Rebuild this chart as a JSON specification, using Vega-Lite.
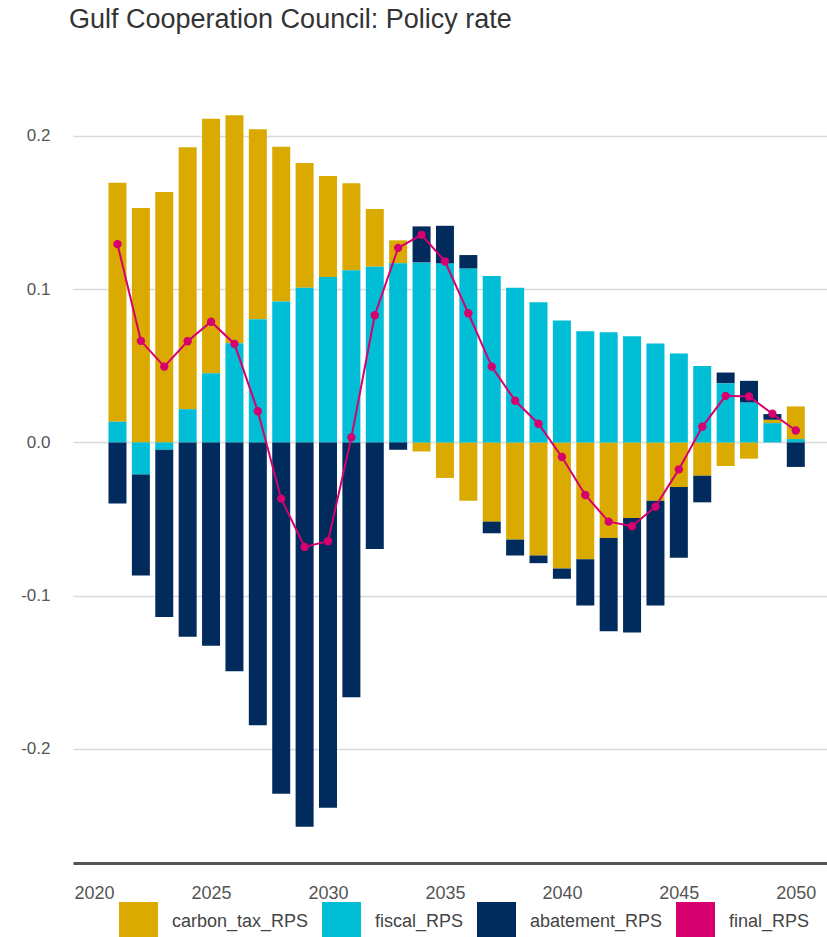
{
  "$schema": "https://vega.github.io/schema/vega-lite/v6.json",
  "width": 754,
  "height": 784,
  "autosize": {"type": "none"},
  "padding": {"left": 73, "top": 79, "right": 0, "bottom": 74},
  "background": "white",
  "config": {
    "font": "Liberation Sans",
    "view": {"stroke": null}
  },
  "title": {
    "text": "Gulf Cooperation Council: Policy rate",
    "anchor": "start",
    "frame": "group",
    "fontSize": 27,
    "fontWeight": "normal",
    "color": "#333333",
    "offset": 45,
    "dx": -4
  },
  "data": {
    "values": [
      {"year": 2021, "carbon_tax_RPS": 0.156, "fiscal_RPS": 0.0135, "abatement_RPS": -0.0399, "final_RPS": 0.1294},
      {"year": 2022, "carbon_tax_RPS": 0.153, "fiscal_RPS": -0.021, "abatement_RPS": -0.0658, "final_RPS": 0.0663},
      {"year": 2023, "carbon_tax_RPS": 0.1635, "fiscal_RPS": -0.0048, "abatement_RPS": -0.1092, "final_RPS": 0.0495},
      {"year": 2024, "carbon_tax_RPS": 0.171, "fiscal_RPS": 0.0217, "abatement_RPS": -0.1268, "final_RPS": 0.066},
      {"year": 2025, "carbon_tax_RPS": 0.166, "fiscal_RPS": 0.0452, "abatement_RPS": -0.1327, "final_RPS": 0.0788},
      {"year": 2026, "carbon_tax_RPS": 0.1488, "fiscal_RPS": 0.0647, "abatement_RPS": -0.1494, "final_RPS": 0.0643},
      {"year": 2027, "carbon_tax_RPS": 0.124, "fiscal_RPS": 0.0804, "abatement_RPS": -0.1846, "final_RPS": 0.0204},
      {"year": 2028, "carbon_tax_RPS": 0.101, "fiscal_RPS": 0.0919, "abatement_RPS": -0.2293, "final_RPS": -0.0367},
      {"year": 2029, "carbon_tax_RPS": 0.0814, "fiscal_RPS": 0.101, "abatement_RPS": -0.2508, "final_RPS": -0.0682},
      {"year": 2030, "carbon_tax_RPS": 0.0659, "fiscal_RPS": 0.108, "abatement_RPS": -0.2384, "final_RPS": -0.0645},
      {"year": 2031, "carbon_tax_RPS": 0.0569, "fiscal_RPS": 0.1123, "abatement_RPS": -0.1663, "final_RPS": 0.0033},
      {"year": 2032, "carbon_tax_RPS": 0.0377, "fiscal_RPS": 0.1147, "abatement_RPS": -0.0695, "final_RPS": 0.083},
      {"year": 2033, "carbon_tax_RPS": 0.015, "fiscal_RPS": 0.1169, "abatement_RPS": -0.0048, "final_RPS": 0.127},
      {"year": 2034, "carbon_tax_RPS": -0.0059, "fiscal_RPS": 0.1175, "abatement_RPS": 0.0235, "final_RPS": 0.1355},
      {"year": 2035, "carbon_tax_RPS": -0.0232, "fiscal_RPS": 0.1169, "abatement_RPS": 0.0245, "final_RPS": 0.1182},
      {"year": 2036, "carbon_tax_RPS": -0.038, "fiscal_RPS": 0.1136, "abatement_RPS": 0.0087, "final_RPS": 0.0843},
      {"year": 2037, "carbon_tax_RPS": -0.0517, "fiscal_RPS": 0.1086, "abatement_RPS": -0.0076, "final_RPS": 0.0495},
      {"year": 2038, "carbon_tax_RPS": -0.0634, "fiscal_RPS": 0.101, "abatement_RPS": -0.0104, "final_RPS": 0.0272},
      {"year": 2039, "carbon_tax_RPS": -0.0738, "fiscal_RPS": 0.0915, "abatement_RPS": -0.005, "final_RPS": 0.0122},
      {"year": 2040, "carbon_tax_RPS": -0.0823, "fiscal_RPS": 0.0795, "abatement_RPS": -0.0067, "final_RPS": -0.0095},
      {"year": 2041, "carbon_tax_RPS": -0.0762, "fiscal_RPS": 0.0726, "abatement_RPS": -0.0302, "final_RPS": -0.0343},
      {"year": 2042, "carbon_tax_RPS": -0.0623, "fiscal_RPS": 0.0719, "abatement_RPS": -0.061, "final_RPS": -0.0517},
      {"year": 2043, "carbon_tax_RPS": -0.0493, "fiscal_RPS": 0.0693, "abatement_RPS": -0.0747, "final_RPS": -0.0547},
      {"year": 2044, "carbon_tax_RPS": -0.038, "fiscal_RPS": 0.0645, "abatement_RPS": -0.0684, "final_RPS": -0.0419},
      {"year": 2045, "carbon_tax_RPS": -0.0291, "fiscal_RPS": 0.058, "abatement_RPS": -0.0462, "final_RPS": -0.0176},
      {"year": 2046, "carbon_tax_RPS": -0.0217, "fiscal_RPS": 0.0498, "abatement_RPS": -0.0174, "final_RPS": 0.0102},
      {"year": 2047, "carbon_tax_RPS": -0.0154, "fiscal_RPS": 0.0387, "abatement_RPS": 0.0069, "final_RPS": 0.0304},
      {"year": 2048, "carbon_tax_RPS": -0.0106, "fiscal_RPS": 0.0261, "abatement_RPS": 0.0141, "final_RPS": 0.03},
      {"year": 2049, "carbon_tax_RPS": 0.0022, "fiscal_RPS": 0.0126, "abatement_RPS": 0.0037, "final_RPS": 0.0187},
      {"year": 2050, "carbon_tax_RPS": 0.0213, "fiscal_RPS": 0.0022, "abatement_RPS": -0.016, "final_RPS": 0.0078}
    ]
  },
  "encoding": {
    "x": {
      "field": "year",
      "type": "quantitative",
      "scale": {"domain": [2019.098, 2051.334], "nice": false, "zero": false, "padding": 0},
      "axis": {
        "title": null,
        "values": [2020, 2025, 2030, 2035, 2040, 2045, 2050],
        "format": "d",
        "grid": false,
        "ticks": false,
        "domainColor": "#555555",
        "domainWidth": 3,
        "labelFontSize": 18,
        "labelColor": "#555555",
        "labelPadding": 21,
        "labelFlush": false
      }
    }
  },
  "layer": [
    {
      "transform": [
        {"fold": ["carbon_tax_RPS", "fiscal_RPS", "abatement_RPS"], "as": ["component", "value"]}
      ],
      "mark": {"type": "bar", "size": 18},
      "encoding": {
        "y": {
          "field": "value",
          "type": "quantitative",
          "aggregate": "sum",
          "stack": "zero",
          "scale": {"domain": [-0.2745, 0.2372], "nice": false, "zero": false},
          "axis": {
            "title": null,
            "values": [-0.2, -0.1, 0, 0.1, 0.2],
            "labelExpr": "replace(format(datum.value, '.1f'), '\u2212', '-')",
            "domain": false,
            "ticks": false,
            "grid": true,
            "gridColor": "#d9d9d9",
            "gridWidth": 1.5,
            "labelFontSize": 17,
            "labelColor": "#555555",
            "labelPadding": 23
          }
        },
        "color": {
          "field": "component",
          "type": "nominal",
          "scale": {
            "domain": ["carbon_tax_RPS", "fiscal_RPS", "abatement_RPS", "final_RPS"],
            "range": ["#DAAA00", "#00BED6", "#002B5C", "#D6006E"]
          },
          "legend": {
            "title": null,
            "orient": "none",
            "direction": "horizontal",
            "legendX": 46,
            "legendY": 823,
            "symbolType": "square",
            "symbolSize": 1521,
            "symbolStrokeWidth": 0,
            "symbolOpacity": 1,
            "labelFontSize": 18,
            "labelColor": "#444444",
            "labelOffset": 14,
            "columnPadding": 13,
            "labelLimit": 300
          }
        },
        "order": {"field": "component", "sort": "descending"}
      }
    },
    {
      "mark": {"type": "rule", "color": "#c8c8c8", "strokeWidth": 2, "strokeDash": [7, 5]},
      "encoding": {"y": {"datum": 0}}
    },
    {
      "mark": {"type": "line", "color": "#D6006E", "strokeWidth": 2, "point": {"filled": true, "size": 70, "color": "#D6006E"}},
      "encoding": {
        "y": {"field": "final_RPS", "type": "quantitative"}
      }
    }
  ]
}
